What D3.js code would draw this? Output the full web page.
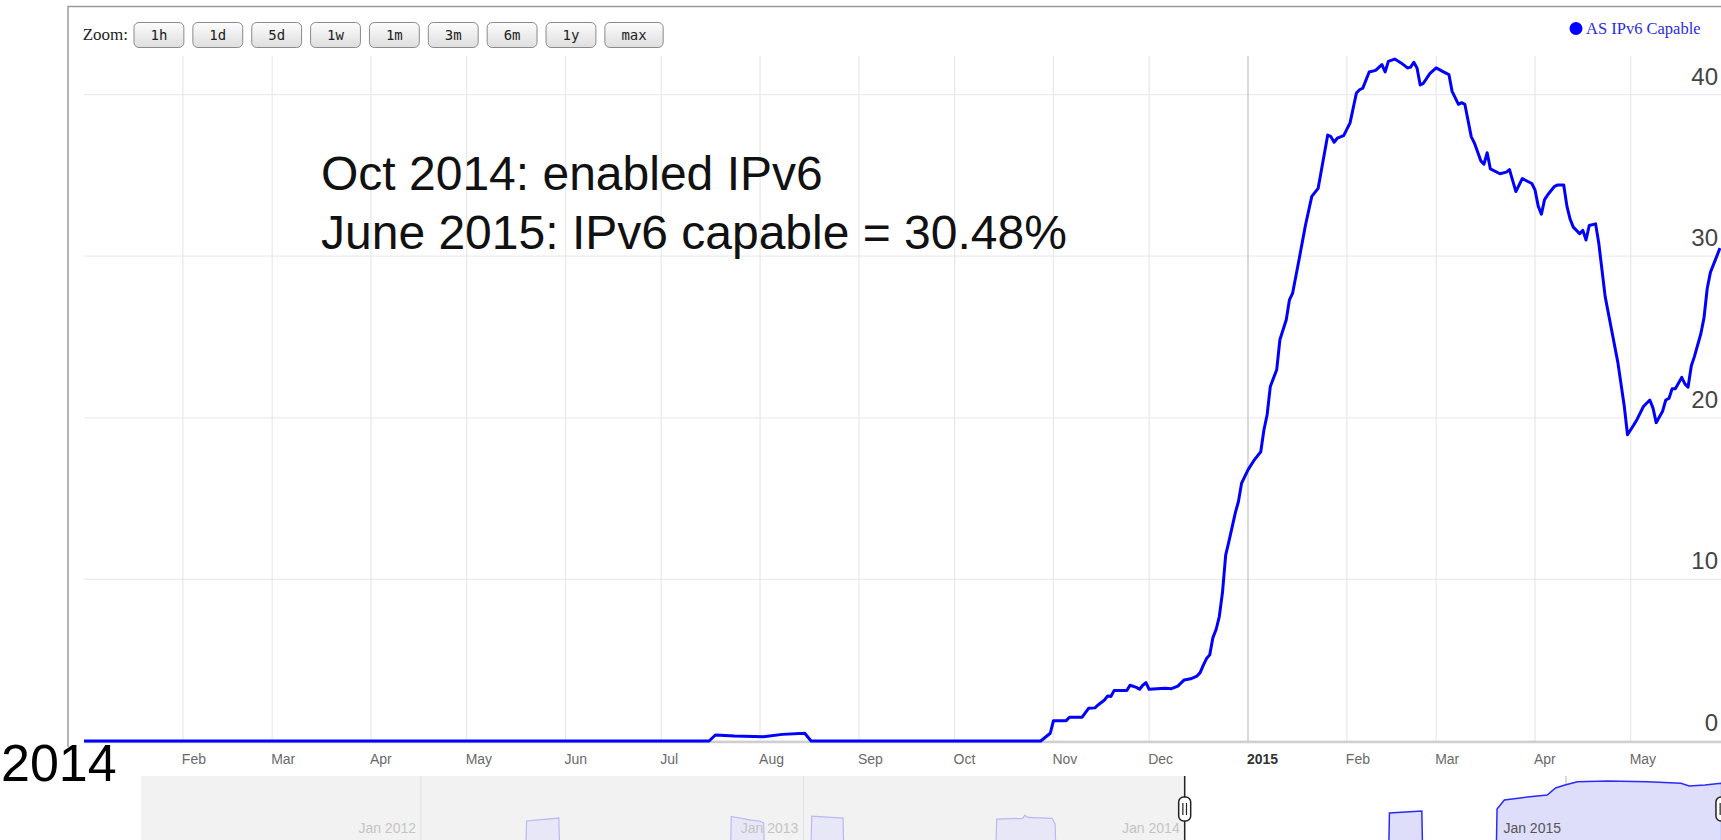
<!DOCTYPE html>
<html>
<head>
<meta charset="utf-8">
<script src="https://cdn.jsdelivr.net/npm/d3@7"></script>
<style>
  body { margin: 0; background: #fff; overflow: hidden; }
</style>
</head>
<body>
<svg id="chart" width="1721" height="840" font-family="'Liberation Sans', Arial, sans-serif"></svg>
<script>
// Main series: AS IPv6 capable (%)
var dates = ["2014-01-01","2014-07-16","2014-07-18","2014-07-24","2014-08-02","2014-08-08","2014-08-15","2014-08-17",
  "2014-10-28","2014-10-31","2014-11-01","2014-11-05","2014-11-06","2014-11-10","2014-11-12","2014-11-14","2014-11-15",
  "2014-11-17","2014-11-18","2014-11-19","2014-11-20","2014-11-24","2014-11-25","2014-11-27","2014-11-28","2014-11-29",
  "2014-11-30","2014-12-01","2014-12-06","2014-12-08","2014-12-10","2014-12-12","2014-12-14","2014-12-16","2014-12-17",
  "2014-12-18","2014-12-19","2014-12-20","2014-12-21","2014-12-22","2014-12-23","2014-12-24","2014-12-25","2014-12-26",
  "2014-12-28","2014-12-29","2014-12-30","2015-01-01","2015-01-03","2015-01-05","2015-01-06","2015-01-07","2015-01-08",
  "2015-01-10","2015-01-11","2015-01-13","2015-01-14","2015-01-15","2015-01-17","2015-01-19","2015-01-21","2015-01-23",
  "2015-01-26","2015-01-27","2015-01-28","2015-01-29","2015-01-31","2015-02-02","2015-02-04","2015-02-05","2015-02-06",
  "2015-02-08","2015-02-10","2015-02-12","2015-02-13","2015-02-14","2015-02-16","2015-02-18","2015-02-20","2015-02-21",
  "2015-02-22","2015-02-23","2015-02-24","2015-02-25","2015-02-27","2015-03-01","2015-03-03","2015-03-05","2015-03-06",
  "2015-03-08","2015-03-09","2015-03-10","2015-03-12","2015-03-13","2015-03-15","2015-03-16","2015-03-17","2015-03-18",
  "2015-03-21","2015-03-23","2015-03-24","2015-03-26","2015-03-28","2015-03-29","2015-03-31","2015-04-01","2015-04-02",
  "2015-04-03","2015-04-04","2015-04-05","2015-04-07","2015-04-08","2015-04-10","2015-04-11","2015-04-12","2015-04-13",
  "2015-04-15","2015-04-16","2015-04-17","2015-04-18","2015-04-20","2015-04-21","2015-04-23","2015-04-25","2015-04-27",
  "2015-04-29","2015-04-30","2015-05-02","2015-05-03","2015-05-05","2015-05-07","2015-05-08","2015-05-09","2015-05-11",
  "2015-05-12","2015-05-13","2015-05-14","2015-05-15","2015-05-17","2015-05-18","2015-05-19","2015-05-20","2015-05-21",
  "2015-05-23","2015-05-24","2015-05-25","2015-05-26","2015-05-29"]
var values = [0,0,0.37,0.31,0.27,0.41,0.48,0,
  0,0.48,1.26,1.26,1.47,1.47,2.02,2.05,2.23,
  2.54,2.79,2.75,3.12,3.12,3.45,3.32,3.2,3.45,
  3.61,3.2,3.26,3.24,3.4,3.78,3.85,4.02,4.23,
  4.7,5.1,5.33,6.4,6.9,7.7,9.2,11.5,12.34,
  14.1,14.82,15.96,16.78,17.4,17.9,19.26,20.19,21.94,
  22.97,24.83,26.07,27.3,27.72,29.78,31.9,33.7,34.2,
  37.5,37.4,37.05,37.3,37.46,38.25,40.1,40.3,40.4,
  41.4,41.5,41.86,41.4,42.06,42.2,41.96,41.65,41.7,
  42.0,41.65,40.6,40.7,41.3,41.65,41.44,41.24,40.2,
  39.4,39.5,39.4,37.4,37.0,35.9,35.7,36.4,35.4,
  35.1,35.2,35.36,34.0,34.8,34.7,34.5,34.1,33.1,
  32.6,33.5,33.8,34.3,34.4,34.4,33.1,32.3,31.8,
  31.4,31.6,31.0,31.9,32.0,30.8,27.5,25.45,23.4,
  20.7,18.95,19.57,19.9,20.7,21.1,20.6,19.7,20.4,
  21.1,21.2,21.8,21.8,22.5,22.1,21.9,23.2,23.8,
  25.2,26.2,28.0,29.0,30.5]

// Overview strip series (relative height in the strip, %)
var navDates = ["2011-04-01","2012-04-10","2012-04-11","2012-05-12","2012-05-13","2012-10-23","2012-10-24","2012-11-12",
  "2012-11-20","2012-11-24","2012-11-25","2013-01-08","2013-01-09","2013-02-08","2013-02-09","2013-07-04","2013-07-05",
  "2013-07-30","2013-08-01","2013-08-04","2013-08-27","2013-08-30","2013-08-31","2014-07-15","2014-07-16","2014-08-16",
  "2014-08-17","2014-10-26","2014-10-27","2014-11-03","2014-11-25","2014-12-14","2014-12-22","2014-12-31","2015-01-12",
  "2015-02-10","2015-03-20","2015-04-21","2015-04-29","2015-05-14","2015-05-30"]
var navValues = [0,0,50,53.3,0,0,55.1,51,
  50,47.8,0,0,55.5,53.3,0,0,52,
  53,56.5,54,53,47,0,0,59,61,
  0,0,63.3,73.3,76.7,78.9,86.7,90,93.7,
  94.4,93.7,91.9,88.9,90,91.9]

var monthTicks = ["2014-02-01","2014-03-01","2014-04-01","2014-05-01","2014-06-01","2014-07-01","2014-08-01","2014-09-01",
  "2014-10-01","2014-11-01","2014-12-01","2015-01-01","2015-02-01","2015-03-01","2015-04-01","2015-05-01"]
var monthLabels = ["Feb","Mar","Apr","May","Jun","Jul","Aug","Sep","Oct","Nov","Dec","2015","Feb","Mar","Apr","May"]
var yTicks = [0, 10, 20, 30, 40]
var navYears = ["2012-01-01","2013-01-01","2014-01-01","2015-01-01"]
var navLabels = ["Jan 2012","Jan 2013","Jan 2014","Jan 2015"]
var zoomButtons = ["1h","1d","5d","1w","1m","3m","6m","1y","max"]
var seriesName = "AS IPv6 Capable"
var notes = ["Oct 2014: enabled IPv6", "June 2015: IPv6 capable = 30.48%"]
var yearLabel = "2014"

var parse = d3.utcParse("%Y-%m-%d")
var svg = d3.select("#chart")
var W = 1721, H = 840
var plotLeft = 84, plotTop = 56
var serif = "'Liberation Serif', 'Times New Roman', serif"

var data = dates.map((d, i) => ({date: parse(d), value: values[i]}))
var navData = navDates.map((d, i) => ({date: parse(d), value: navValues[i]}))

var x = d3.scaleUtc().domain([parse("2014-01-01"), parse("2015-01-01")]).range([plotLeft, 1248])
var y = d3.scaleLinear().domain([0, 40]).range([741, 94.6])

// Gridlines
svg.append("g").selectAll("line").data(yTicks).join("line")
  .attr("x1", plotLeft).attr("x2", W)
  .attr("y1", d => y(d)).attr("y2", d => y(d))
  .attr("stroke", "#ebebf2").attr("stroke-width", 1.2)

svg.append("g").selectAll("line").data(monthTicks).join("line")
  .attr("x1", d => x(parse(d))).attr("x2", d => x(parse(d)))
  .attr("y1", plotTop).attr("y2", y(0))
  .attr("stroke", d => d.endsWith("01-01") ? "#d0d0d0" : "#e8e8e8")
  .attr("stroke-width", d => d.endsWith("01-01") ? 1.6 : 1.2)

// Baseline
svg.append("line")
  .attr("x1", plotLeft).attr("x2", W)
  .attr("y1", y(0) + 1).attr("y2", y(0) + 1)
  .attr("stroke", "#cfcfcf").attr("stroke-width", 2.5)

// Outer frame
svg.append("path")
  .attr("d", "M68,747V6.5H" + W)
  .attr("fill", "none").attr("stroke", "#9c9c9c").attr("stroke-width", 1.5)

// Month labels
svg.append("g").selectAll("text").data(monthTicks).join("text")
  .attr("x", d => x(parse(d)) - 1)
  .attr("y", 764)
  .attr("font-size", 14)
  .attr("font-weight", (d, i) => monthLabels[i] == "2015" ? "bold" : null)
  .attr("fill", (d, i) => monthLabels[i] == "2015" ? "#333" : "#6a6a6a")
  .text((d, i) => monthLabels[i])

// Y labels
svg.append("g").selectAll("text").data(yTicks).join("text")
  .attr("x", 1718).attr("y", d => y(d) - 10)
  .attr("text-anchor", "end")
  .attr("font-size", 24).attr("fill", "#444")
  .text(d => d)

// Line
var line = d3.line().x(d => x(d.date)).y(d => y(d.value))
svg.append("path")
  .datum(data)
  .attr("d", line)
  .attr("fill", "none")
  .attr("stroke", "#0000ff")
  .attr("stroke-width", 3)
  .attr("stroke-linejoin", "round")

// Zoom buttons
var defs = svg.append("defs")
var grad = defs.append("linearGradient")
  .attr("id", "btn").attr("x1", 0).attr("x2", 0).attr("y1", 0).attr("y2", 1)
grad.append("stop").attr("offset", "0%").attr("stop-color", "#fcfcfc")
grad.append("stop").attr("offset", "100%").attr("stop-color", "#dedede")

svg.append("text")
  .attr("x", 128).attr("y", 39.5)
  .attr("text-anchor", "end")
  .attr("font-family", serif)
  .attr("font-size", 17).attr("fill", "#222")
  .text("Zoom:")

var bx = 134
zoomButtons.forEach(b => {
  var g = svg.append("g")
  var t = g.append("text")
    .attr("y", 40)
    .attr("font-family", "'DejaVu Sans Mono', monospace")
    .attr("font-size", 14).attr("fill", "#222")
    .attr("text-anchor", "middle")
    .text(b)
  var w = t.node().getComputedTextLength() + 33
  g.insert("rect", "text")
    .attr("x", bx).attr("y", 22.5).attr("width", w).attr("height", 25)
    .attr("rx", 5).attr("fill", "url(#btn)")
    .attr("stroke", "#8a8a8a").attr("stroke-width", 1)
  t.attr("x", bx + w / 2)
  bx += w + 9
})

// Legend
svg.append("circle").attr("cx", 1576).attr("cy", 28.5).attr("r", 6.5).attr("fill", "#0000ff")
svg.append("text")
  .attr("x", 1586).attr("y", 34)
  .attr("font-family", serif)
  .attr("font-size", 16.5).attr("fill", "#2b2be6")
  .text(seriesName)

// Annotation
svg.append("g").selectAll("text").data(notes).join("text")
  .attr("x", 321).attr("y", (d, i) => 190 + i * 59)
  .attr("font-size", 48).attr("fill", "#111")
  .text(d => d)

svg.append("text")
  .attr("x", 1).attr("y", 781)
  .attr("font-size", 52).attr("fill", "#000")
  .text(yearLabel)

// Overview strip
var navLeft = 141, navTop = 776, navBottom = 866
var xn = d3.scaleUtc().domain([parse("2012-01-01"), parse("2015-01-01")]).range([421, 1566])
var yn = d3.scaleLinear().domain([0, 100]).range([navBottom, navTop])
var selStart = xn(x.domain()[0])
var selEnd = xn(x.invert(W))

svg.append("rect")
  .attr("x", navLeft).attr("y", navTop)
  .attr("width", selStart - navLeft).attr("height", H - navTop)
  .attr("fill", "#f2f2f2")

defs.append("clipPath").attr("id", "navOut").append("rect")
  .attr("x", navLeft).attr("y", navTop).attr("width", selStart - navLeft).attr("height", H - navTop)
defs.append("clipPath").attr("id", "navIn").append("rect")
  .attr("x", selStart).attr("y", navTop).attr("width", W - selStart).attr("height", H - navTop)

// year lines in the strip
svg.append("g").selectAll("line").data(navYears).join("line")
  .attr("x1", d => xn(parse(d))).attr("x2", d => xn(parse(d)))
  .attr("y1", navTop).attr("y2", H)
  .attr("stroke", d => xn(parse(d)) > selStart + 2 ? "#b0b0b0" : "#e0e0e0")
  .attr("stroke-width", 1)

var area = d3.area().x(d => xn(d.date)).y0(navBottom).y1(d => yn(d.value))
svg.append("path").datum(navData)
  .attr("d", area).attr("clip-path", "url(#navOut)")
  .attr("fill", "#e7e7f7").attr("stroke", "#b9b9f5").attr("stroke-width", 1.2)
svg.append("path").datum(navData)
  .attr("d", area).attr("clip-path", "url(#navIn)")
  .attr("fill", "#dedefb").attr("stroke", "#2a2aff").attr("stroke-width", 1.5)

svg.append("g").selectAll("text").data(navYears).join("text")
  .attr("x", d => xn(parse(d)) - 5).attr("y", 833)
  .attr("text-anchor", "end")
  .attr("font-size", 14)
  .attr("fill", d => xn(parse(d)) > selStart + 2 ? "#555" : "#c4c4c4")
  .text((d, i) => navLabels[i])

// Handles
function drawHandle(hx) {
  svg.append("line")
    .attr("x1", hx).attr("x2", hx).attr("y1", navTop).attr("y2", H)
    .attr("stroke", "#222").attr("stroke-width", 1.5)
  svg.append("rect")
    .attr("x", hx - 6).attr("y", 797).attr("width", 12).attr("height", 24)
    .attr("rx", 5).attr("fill", "#fff")
    .attr("stroke", "#222").attr("stroke-width", 1.5)
  ;[-1.8, 1.8].forEach(o => {
    svg.append("line")
      .attr("x1", hx + o).attr("x2", hx + o).attr("y1", 803).attr("y2", 815)
      .attr("stroke", "#222").attr("stroke-width", 1.2)
  })
}
drawHandle(selStart)
drawHandle(selEnd + 1)
</script>
</body>
</html>
